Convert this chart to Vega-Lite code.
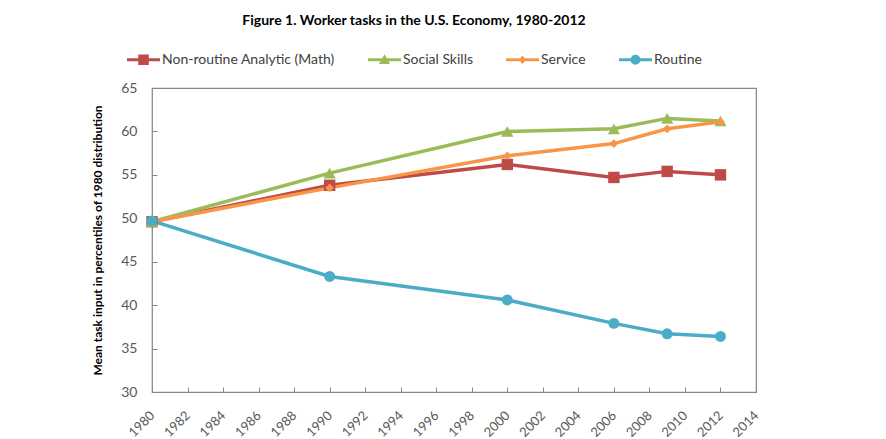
{
  "$schema": "https://vega.github.io/schema/vega-lite/v6.json",
  "width": 604,
  "height": 304,
  "autosize": {"type": "none"},
  "padding": {"left": 152, "top": 88, "right": 130, "bottom": 47},
  "background": "white",
  "title": {
    "text": "Figure 1. Worker tasks in the U.S. Economy, 1980-2012",
    "font": "Lato",
    "fontSize": 14,
    "fontWeight": "bold",
    "color": "#000000",
    "anchor": "middle",
    "dx": -40,
    "offset": 15
  },
  "data": {
    "values": [
      {"year": 1980, "series": "Non-routine Analytic (Math)", "value": 49.6},
      {"year": 1990, "series": "Non-routine Analytic (Math)", "value": 53.8},
      {"year": 2000, "series": "Non-routine Analytic (Math)", "value": 56.2},
      {"year": 2006, "series": "Non-routine Analytic (Math)", "value": 54.7},
      {"year": 2009, "series": "Non-routine Analytic (Math)", "value": 55.4},
      {"year": 2012, "series": "Non-routine Analytic (Math)", "value": 55.0},
      {"year": 1980, "series": "Social Skills", "value": 49.6},
      {"year": 1990, "series": "Social Skills", "value": 55.2},
      {"year": 2000, "series": "Social Skills", "value": 60.0},
      {"year": 2006, "series": "Social Skills", "value": 60.3},
      {"year": 2009, "series": "Social Skills", "value": 61.5},
      {"year": 2012, "series": "Social Skills", "value": 61.2},
      {"year": 1980, "series": "Service", "value": 49.6},
      {"year": 1990, "series": "Service", "value": 53.5},
      {"year": 2000, "series": "Service", "value": 57.2},
      {"year": 2006, "series": "Service", "value": 58.6},
      {"year": 2009, "series": "Service", "value": 60.3},
      {"year": 2012, "series": "Service", "value": 61.1},
      {"year": 1980, "series": "Routine", "value": 49.7},
      {"year": 1990, "series": "Routine", "value": 43.3},
      {"year": 2000, "series": "Routine", "value": 40.6},
      {"year": 2006, "series": "Routine", "value": 37.9},
      {"year": 2009, "series": "Routine", "value": 36.7},
      {"year": 2012, "series": "Routine", "value": 36.4}
    ]
  },
  "encoding": {
    "x": {
      "field": "year",
      "type": "quantitative",
      "scale": {"domain": [1980, 2014], "nice": false, "zero": false},
      "axis": {
        "title": null,
        "values": [1980, 1982, 1984, 1986, 1988, 1990, 1992, 1994, 1996, 1998, 2000, 2002, 2004, 2006, 2008, 2010, 2012, 2014],
        "format": "d",
        "labelAngle": -45,
        "labelAlign": "right",
        "labelBaseline": "middle",
        "grid": false,
        "domain": false,
        "tickSize": -5,
        "tickColor": "#868686",
        "labelPadding": 26,
        "labelFont": "Lato",
        "labelFontSize": 13,
        "labelColor": "#595959",
        "labelFlush": false,
        "labelOverlap": false
      }
    },
    "y": {
      "field": "value",
      "type": "quantitative",
      "scale": {"domain": [30, 65], "nice": false, "zero": false},
      "axis": {
        "title": "Mean task input in percentiles of 1980 distribution",
        "titleFont": "Lato",
        "titleFontSize": 12,
        "titleFontWeight": "bold",
        "titleColor": "#000000",
        "titleX": -55,
        "titleY": 152,
        "titleAngle": -90,
        "titleAlign": "center",
        "titleBaseline": "middle",
        "values": [30, 35, 40, 45, 50, 55, 60, 65],
        "grid": false,
        "domain": false,
        "tickSize": -5,
        "tickColor": "#868686",
        "labelPadding": 20,
        "labelFont": "Lato",
        "labelFontSize": 14,
        "labelColor": "#595959",
        "labelFlush": false,
        "labelOverlap": false
      }
    },
    "color": {
      "field": "series",
      "type": "nominal",
      "sort": ["Non-routine Analytic (Math)", "Social Skills", "Service", "Routine"],
      "scale": {
        "domain": ["Non-routine Analytic (Math)", "Social Skills", "Service", "Routine"],
        "range": ["#be4b48", "#9bbb59", "#f79646", "#4bacc6"]
      },
      "legend": {
        "title": null,
        "orient": "none",
        "direction": "horizontal",
        "legendX": -25,
        "legendY": -45,
        "symbolSize": 1089,
        "symbolStrokeWidth": 0,
        "labelFont": "Lato",
        "labelFontSize": 14,
        "labelColor": "#404040",
        "labelLimit": 400,
        "labelOffset": 2,
        "columnPadding": 33,
        "encode": {
          "symbols": {
            "update": {
              "shape": {"signal": "datum.value == 'Non-routine Analytic (Math)' ? 'M-1,-0.09H1V0.09H-1Z M-0.32,-0.32H0.32V0.32H-0.32Z' : datum.value == 'Social Skills' ? 'M-1,-0.09H1V0.09H-1Z M0,-0.34L0.34,0.26L-0.34,0.26Z' : datum.value == 'Service' ? 'M-1,-0.09H1V0.09H-1Z M0,-0.26L0.21,0L0,0.26L-0.21,0Z' : 'M-1,-0.09H1V0.09H-1Z M-0.3,0A0.3,0.3 0 1,1 0.3,0A0.3,0.3 0 1,1 -0.3,0Z'"},
              "fill": {"signal": "scale('color', datum.value)"},
              "fillOpacity": {"value": 1},
              "strokeWidth": {"value": 0}
            }
          }
        }
      }
    }
  },
  "layer": [
    {
      "mark": {"type": "line", "strokeWidth": 3.5},
      "encoding": {"order": {"field": "year"}}
    },
    {
      "transform": [{"filter": "datum.series == 'Non-routine Analytic (Math)'"}],
      "mark": {"type": "point", "filled": true, "opacity": 1, "shape": "square", "size": 130}
    },
    {
      "transform": [{"filter": "datum.series == 'Social Skills'"}],
      "mark": {"type": "point", "filled": true, "opacity": 1, "shape": "triangle-up", "size": 150}
    },
    {
      "transform": [{"filter": "datum.series == 'Service'"}],
      "mark": {"type": "point", "filled": true, "opacity": 1, "shape": "diamond", "size": 75}
    },
    {
      "transform": [{"filter": "datum.series == 'Routine'"}],
      "mark": {"type": "point", "filled": true, "opacity": 1, "shape": "circle", "size": 120}
    }
  ],
  "config": {
    "view": {"stroke": "#868686", "strokeWidth": 1.2}
  }
}
